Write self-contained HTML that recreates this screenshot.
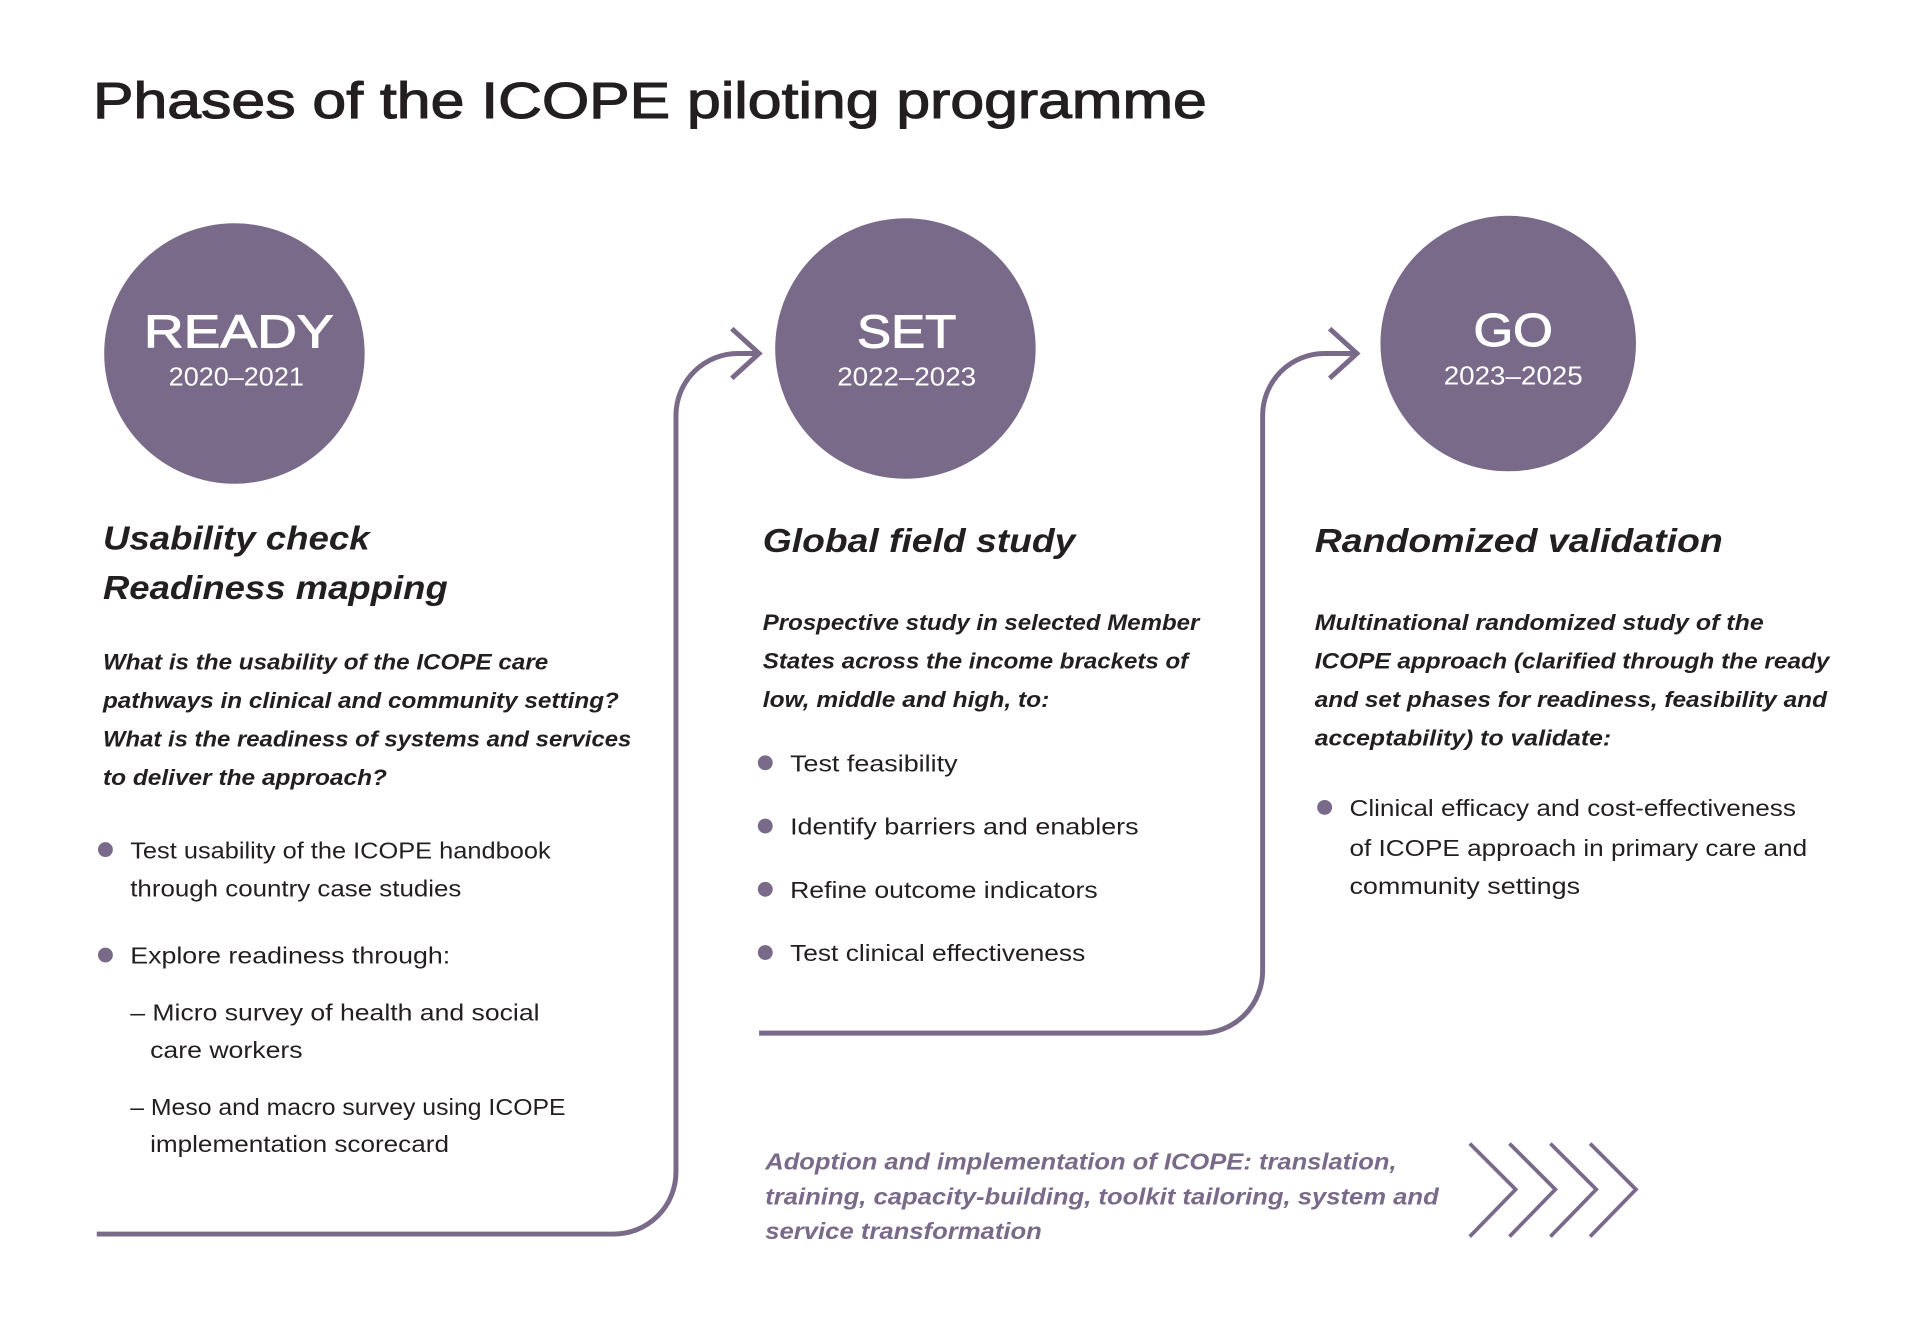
<!DOCTYPE html>
<html><head><meta charset="utf-8"><style>
html,body{margin:0;padding:0;background:#fff;}
svg{display:block;}
text{font-family:"Liberation Sans",sans-serif;fill:#231f20;}
.h{font-style:italic;font-weight:bold;font-size:27px;}
.q{font-style:italic;font-weight:bold;font-size:18px;}
.b{font-size:18.5px;}
.w{fill:#fff;}
.p{fill:#7a6a8a;font-style:italic;font-weight:bold;font-size:19px;}
</style></head><body>
<svg width="1920" height="1338" viewBox="0 0 1548 1078.8" preserveAspectRatio="none" xmlns="http://www.w3.org/2000/svg">
<text x="75" y="95" font-size="41" stroke="#231f20" stroke-width="0.9" textLength="898" lengthAdjust="spacingAndGlyphs">Phases of the ICOPE piloting programme</text>

<g fill="#7a6a8a">
<circle cx="189" cy="285" r="105"/>
<circle cx="730" cy="281" r="105"/>
<circle cx="1216" cy="277" r="103"/>
</g>
<text class="w" x="116" y="280" font-size="37" stroke="#fff" stroke-width="0.8" textLength="153" lengthAdjust="spacingAndGlyphs">READY</text>
<text class="w" x="136" y="311" font-size="21" textLength="109" lengthAdjust="spacingAndGlyphs">2020–2021</text>
<text class="w" x="691" y="280" font-size="37" stroke="#fff" stroke-width="0.8" textLength="80" lengthAdjust="spacingAndGlyphs">SET</text>
<text class="w" x="675" y="311" font-size="21" textLength="112" lengthAdjust="spacingAndGlyphs">2022–2023</text>
<text class="w" x="1188" y="279" font-size="37" stroke="#fff" stroke-width="0.8" textLength="64" lengthAdjust="spacingAndGlyphs">GO</text>
<text class="w" x="1164" y="310" font-size="21" textLength="112" lengthAdjust="spacingAndGlyphs">2023–2025</text>

<g fill="none" stroke="#7a6a8a" stroke-width="4">
<path d="M78 995 H495 A50 50 0 0 0 545 945 V335 A50 50 0 0 1 595 285 H612"/>
<path d="M590 265 L612 285 L590 305"/>
<path d="M612 833 H968 A50 50 0 0 0 1018 783 V335 A50 50 0 0 1 1068 285 H1094"/>
<path d="M1072 265 L1094 285 L1072 305"/>
</g>
<g fill="none" stroke="#7a6a8a" stroke-width="3">
<path d="M1185 922 L1222 959 L1185 997"/>
<path d="M1217 922 L1254 959 L1217 997"/>
<path d="M1250 922 L1287 959 L1250 997"/>
<path d="M1282 922 L1319 959 L1282 997"/>
</g>

<text class="h" x="83" y="443" textLength="215" lengthAdjust="spacingAndGlyphs">Usability check</text>
<text class="h" x="83" y="483" textLength="278" lengthAdjust="spacingAndGlyphs">Readiness mapping</text>
<text class="h" x="615" y="445" textLength="252" lengthAdjust="spacingAndGlyphs">Global field study</text>
<text class="h" x="1060" y="445" textLength="329" lengthAdjust="spacingAndGlyphs">Randomized validation</text>

<text class="q" x="83" y="540" textLength="359" lengthAdjust="spacingAndGlyphs">What is the usability of the ICOPE care</text>
<text class="q" x="83" y="571" textLength="416" lengthAdjust="spacingAndGlyphs">pathways in clinical and community setting?</text>
<text class="q" x="83" y="602" textLength="426" lengthAdjust="spacingAndGlyphs">What is the readiness of systems and services</text>
<text class="q" x="83" y="633" textLength="229" lengthAdjust="spacingAndGlyphs">to deliver the approach?</text>

<text class="q" x="615" y="508" textLength="352" lengthAdjust="spacingAndGlyphs">Prospective study in selected Member</text>
<text class="q" x="615" y="539" textLength="343" lengthAdjust="spacingAndGlyphs">States across the income brackets of</text>
<text class="q" x="615" y="570" textLength="231" lengthAdjust="spacingAndGlyphs">low, middle and high, to:</text>

<text class="q" x="1060" y="508" textLength="362" lengthAdjust="spacingAndGlyphs">Multinational randomized study of the</text>
<text class="q" x="1060" y="539" textLength="415" lengthAdjust="spacingAndGlyphs">ICOPE approach (clarified through the ready</text>
<text class="q" x="1060" y="570" textLength="413" lengthAdjust="spacingAndGlyphs">and set phases for readiness, feasibility and</text>
<text class="q" x="1060" y="601" textLength="239" lengthAdjust="spacingAndGlyphs">acceptability) to validate:</text>

<g fill="#7a6a8a">
<circle cx="85" cy="685" r="6"/><circle cx="85" cy="770" r="6"/>
<circle cx="617" cy="615" r="6"/><circle cx="617" cy="666" r="6"/><circle cx="617" cy="717" r="6"/><circle cx="617" cy="768" r="6"/>
<circle cx="1068" cy="651" r="6"/>
</g>
<text class="b" x="105" y="692" textLength="339" lengthAdjust="spacingAndGlyphs">Test usability of the ICOPE handbook</text>
<text class="b" x="105" y="723" textLength="267" lengthAdjust="spacingAndGlyphs">through country case studies</text>
<text class="b" x="105" y="777" textLength="258" lengthAdjust="spacingAndGlyphs">Explore readiness through:</text>
<text class="b" x="105" y="823" textLength="330" lengthAdjust="spacingAndGlyphs">– Micro survey of health and social</text>
<text class="b" x="121" y="853" textLength="123" lengthAdjust="spacingAndGlyphs">care workers</text>
<text class="b" x="105" y="899" textLength="351" lengthAdjust="spacingAndGlyphs">– Meso and macro survey using ICOPE</text>
<text class="b" x="121" y="929" textLength="241" lengthAdjust="spacingAndGlyphs">implementation scorecard</text>

<text class="b" x="637" y="622" textLength="135" lengthAdjust="spacingAndGlyphs">Test feasibility</text>
<text class="b" x="637" y="673" textLength="281" lengthAdjust="spacingAndGlyphs">Identify barriers and enablers</text>
<text class="b" x="637" y="724" textLength="248" lengthAdjust="spacingAndGlyphs">Refine outcome indicators</text>
<text class="b" x="637" y="775" textLength="238" lengthAdjust="spacingAndGlyphs">Test clinical effectiveness</text>

<text class="b" x="1088" y="658" textLength="360" lengthAdjust="spacingAndGlyphs">Clinical efficacy and cost-effectiveness</text>
<text class="b" x="1088" y="690" textLength="369" lengthAdjust="spacingAndGlyphs">of ICOPE approach in primary care and</text>
<text class="b" x="1088" y="721" textLength="186" lengthAdjust="spacingAndGlyphs">community settings</text>

<text class="p" x="617" y="943" textLength="509" lengthAdjust="spacingAndGlyphs">Adoption and implementation of ICOPE: translation,</text>
<text class="p" x="617" y="971" textLength="543" lengthAdjust="spacingAndGlyphs">training, capacity-building, toolkit tailoring, system and</text>
<text class="p" x="617" y="999" textLength="223" lengthAdjust="spacingAndGlyphs">service transformation</text>
</svg>
</body></html>
